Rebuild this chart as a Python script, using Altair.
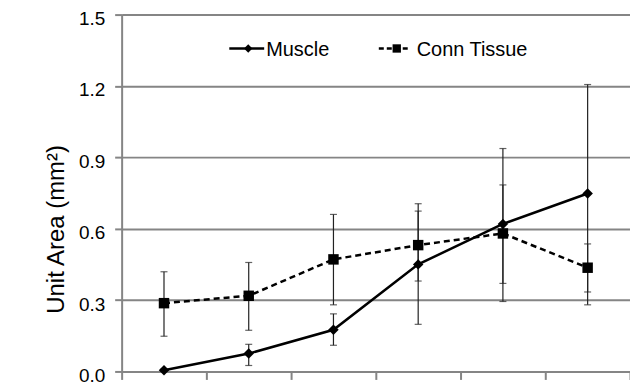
import altair as alt
import pandas as pd

groups = [1, 2, 3, 4, 5, 6]
muscle_mean = [0.005, 0.075, 0.175, 0.45, 0.62, 0.748]
muscle_lo = [0.0, 0.025, 0.11, 0.198, 0.294, 0.28]
muscle_hi = [0.01, 0.114, 0.242, 0.674, 0.937, 1.206]
conn_mean = [0.287, 0.318, 0.471, 0.531, 0.58, 0.436]
conn_lo = [0.148, 0.173, 0.28, 0.38, 0.37, 0.334]
conn_hi = [0.419, 0.458, 0.66, 0.705, 0.784, 0.536]
y_ticks = [0.0, 0.3, 0.6, 0.9, 1.2, 1.5]
x_edges = [0, 1, 2, 3, 4, 5, 6]

rows = []
for i, g in enumerate(groups):
    rows.append(dict(pos=g - 0.5, series="Muscle", mean=muscle_mean[i], lo=muscle_lo[i], hi=muscle_hi[i]))
for i, g in enumerate(groups):
    rows.append(dict(pos=g - 0.5, series="Conn Tissue", mean=conn_mean[i], lo=conn_lo[i], hi=conn_hi[i]))
df = pd.DataFrame(rows)

GRAY = "#858585"
FONT = "Liberation Sans"

x = alt.X("pos:Q", scale=alt.Scale(domain=[0, 6], nice=False, zero=False),
          axis=alt.Axis(values=x_edges, labels=False, title=None, grid=False,
                        domainColor=GRAY, domainWidth=2, tickColor=GRAY, tickWidth=2, tickSize=8))
y = alt.Y("mean:Q", scale=alt.Scale(domain=[0, 1.5], nice=False),
          axis=alt.Axis(values=y_ticks, format=".1f", title="Unit Area (mm²)",
                        grid=True, gridColor=GRAY, gridWidth=2,
                        domainColor=GRAY, domainWidth=2, tickColor=GRAY, tickWidth=2, tickSize=7,
                        labelFont=FONT, labelFontSize=19, labelColor="#000", labelPadding=10,
                        labelBaseline="middle", labelOffset=4, labelFlush=False,
                        titleFont=FONT, titleFontSize=24, titleFontWeight="normal", titleColor="#000",
                        titleX=-65, titleY=215, titleAngle=-90, titleBaseline="middle", titleAlign="center"))

base = alt.Chart(df)

err = base.mark_rule(color="#222", strokeWidth=1.2).encode(x=x, y=alt.Y("lo:Q"), y2="hi:Q")
cap_hi = base.mark_tick(color="#222", thickness=1.2, size=7, orient="horizontal").encode(x=x, y=alt.Y("hi:Q"))
cap_lo = base.mark_tick(color="#222", thickness=1.2, size=7, orient="horizontal").encode(x=x, y=alt.Y("lo:Q"))

m_line = base.transform_filter(alt.datum.series == "Muscle").mark_line(color="#000", strokeWidth=2.5).encode(x=x, y=y)
m_pts = base.transform_filter(alt.datum.series == "Muscle").mark_point(
    shape="diamond", filled=True, color="#000", size=110, opacity=1).encode(x=x, y=y)
c_line = base.transform_filter(alt.datum.series == "Conn Tissue").mark_line(
    color="#000", strokeWidth=2.5, strokeDash=[6, 4]).encode(x=x, y=y)
c_pts = base.transform_filter(alt.datum.series == "Conn Tissue").mark_point(
    shape="square", filled=True, color="#000", size=110, opacity=1).encode(x=x, y=y)

# legend (decoration)
leg = alt.Chart(pd.DataFrame({"a": [0]}))
lg_m_line = leg.mark_rule(color="#000", strokeWidth=2.5).encode(x=alt.value(108), x2=alt.value(143), y=alt.value(34))
lg_m_pt = leg.mark_point(shape="diamond", filled=True, color="#000", size=70, opacity=1).encode(x=alt.value(127), y=alt.value(34))
lg_m_txt = leg.mark_text(text="Muscle", font=FONT, fontSize=20, align="left", baseline="alphabetic", color="#000").encode(
    x=alt.value(145), y=alt.value(42))
lg_c_line = leg.mark_rule(color="#000", strokeWidth=2.5, strokeDash=[5, 3]).encode(x=alt.value(258), x2=alt.value(288), y=alt.value(34))
lg_c_pt = leg.mark_point(shape="square", filled=True, color="#000", size=70, opacity=1).encode(x=alt.value(276), y=alt.value(34))
lg_c_txt = leg.mark_text(text="Conn Tissue", font=FONT, fontSize=20, align="left", baseline="alphabetic", color="#000").encode(
    x=alt.value(296), y=alt.value(42))

chart = alt.layer(
    err, cap_hi, cap_lo, c_line, m_line, c_pts, m_pts,
    lg_m_line, lg_m_pt, lg_m_txt, lg_c_line, lg_c_pt, lg_c_txt
).properties(
    width=510, height=358,
    autosize=alt.AutoSizeParams(type="none"),
    padding={"left": 114, "top": 6, "right": 0, "bottom": 14},
    background="white",
).configure_view(stroke=None)

chart.save("out.html", embed_options={"renderer": "svg", "actions": False})
